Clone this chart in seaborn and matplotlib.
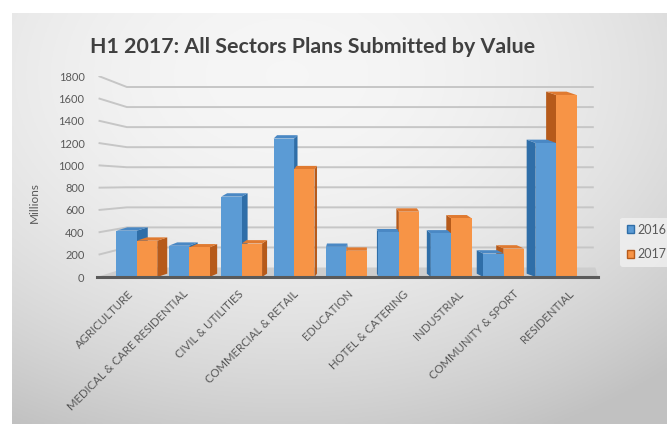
import numpy as np
import pandas as pd
import matplotlib
matplotlib.use("Agg")
import matplotlib.pyplot as plt
import matplotlib.transforms as mtransforms
from matplotlib.patches import Polygon, Patch
import seaborn as sns

# ---- data (millions) ----
sectors = ["AGRICULTURE", "MEDICAL & CARE RESIDENTIAL", "CIVIL & UTILITIES",
           "COMMERCIAL & RETAIL", "EDUCATION", "HOTEL & CATERING",
           "INDUSTRIAL", "COMMUNITY & SPORT", "RESIDENTIAL"]
values_2016 = [415, 280, 720, 1240, 270, 400, 390, 210, 1200]
values_2017 = [325, 265, 300, 965, 235, 585, 525, 255, 1630]
years = ["2016", "2017"]
y_ticks = [0, 200, 400, 600, 800, 1000, 1200, 1400, 1600, 1800]

df = pd.DataFrame({
    "Sector": sectors * 2,
    "Year": [years[0]] * len(sectors) + [years[1]] * len(sectors),
    "Value": values_2016 + values_2017,
})

front_cols = {"2016": "#5b9bd5", "2017": "#f79446"}
side_cols = {"2016": "#2f6ea8", "2017": "#b65a1a"}
top_cols = {"2016": "#4a88c4", "2017": "#e07a30"}
text_grey = "#595959"

sns.set_theme(style="white")
plt.rcParams["font.family"] = ["Lato", "DejaVu Sans"]

fig = plt.figure(figsize=(6.67, 4.24), dpi=100)
fig.patch.set_facecolor("white")

# soft grey gradient panel behind the chart
bg = fig.add_axes([12 / 667, 0, 1 - 12 / 667, 1 - 13 / 424])
gy, gx = np.mgrid[0:1:200j, 0:1:300j]
r2 = ((gx - 0.42) / 0.9) ** 2 + ((gy - 0.15) / 1.0) ** 2
shade = np.clip(0.965 - 0.22 * r2, 0.76, 0.97)
bg.imshow(np.dstack([shade] * 3), aspect="auto", extent=[0, 1, 0, 1], origin="upper")
bg.axis("off")

ax = fig.add_axes([97 / 667, 1 - 277 / 424, 501 / 667, 201 / 424])
ax.set_facecolor("none")

sns.barplot(data=df, x="Sector", y="Value", hue="Year", hue_order=years,
            palette=front_cols, width=0.78, saturation=1, ax=ax,
            legend=False, zorder=3, edgecolor="none")

ax.set_xlim(-0.76, 8.8)
ax.set_ylim(0, 1800)
x0, x1 = ax.get_xlim()

# perspective: back wall drawn slightly lower and compressed
wall_depth = 0.57
def back(v):
    return 85 + 0.898 * v

# walls: left-wall slants joining the back-wall gridlines
for v in y_ticks[1:]:
    ax.plot([x0 + 0.03, x0 + wall_depth, x1 - 0.08], [v, back(v), back(v)],
            color="#c6c6c6", lw=1.4, zorder=0.5, solid_capstyle="butt")

# floor
floor = Polygon([(x0, 0), (x1, 0), (x1 - 0.05, back(0)), (x0 + wall_depth, back(0))],
                closed=True, facecolor="#cdcdcd", edgecolor="none", zorder=1)
ax.add_patch(floor)

# pseudo-3D sides and tops, converging towards the middle of the chart
vanish_x = 4.2
dy = 30
bars = list(ax.patches)[:2 * len(sectors)]
for i, bar in enumerate(bars):
    yr = years[i // len(sectors)]
    x, w, h = bar.get_x(), bar.get_width(), bar.get_height()
    dx = 0.19 * (vanish_x - (x + w / 2)) / 4.0
    edge = x + w if dx > 0 else x
    side = Polygon([(edge, 0), (edge + dx, dy), (edge + dx, h + dy), (edge, h)],
                   closed=True, facecolor=side_cols[yr], edgecolor="none", zorder=2)
    top = Polygon([(x, h), (x + w, h), (x + w + dx, h + dy), (x + dx, h + dy)],
                  closed=True, facecolor=top_cols[yr], edgecolor="none", zorder=2.5)
    ax.add_patch(side)
    ax.add_patch(top)

ax.set_yticks(y_ticks)
ax.grid(False)

for s in ["top", "right", "left"]:
    ax.spines[s].set_visible(False)
ax.spines["bottom"].set_color("#5a5a5a")
ax.spines["bottom"].set_linewidth(2.2)
ax.spines["bottom"].set_zorder(4)

ax.tick_params(axis="y", labelsize=8, colors=text_grey, length=0, pad=9)
ax.tick_params(axis="x", labelsize=8.2, colors=text_grey, length=0, pad=8)
ax.set_xlabel("")
ax.set_ylabel("")

ax.set_xticks(range(len(sectors)))
ax.set_xticklabels(sectors, rotation=45, ha="right", rotation_mode="anchor")
for i, lab in enumerate(ax.get_xticklabels()):
    off = mtransforms.ScaledTranslation((-9 + 2.6 * i) / 100, 0, fig.dpi_scale_trans)
    lab.set_transform(lab.get_transform() + off)

fig.text(34 / 667, 1 - 203 / 424, "Millions", rotation=90, fontsize=8.5,
         color=text_grey, ha="center", va="center")

fig.text(90 / 667, 1 - 47 / 424, "H1 2017: All Sectors Plans Submitted by Value",
         fontsize=15.4, fontweight="bold", color="#404040", va="center", ha="left")

handles = [Patch(facecolor=front_cols[y], edgecolor=side_cols[y]) for y in years]
leg = fig.legend(handles, years, loc="center left",
                 bbox_to_anchor=(614 / 667, 1 - 242 / 424),
                 fontsize=9, frameon=True, handlelength=0.6, handleheight=0.6,
                 handletextpad=0.3, labelspacing=1.0, borderpad=0.5)
leg.get_frame().set_facecolor("#f1f1f1")
leg.get_frame().set_edgecolor("none")
for t in leg.get_texts():
    t.set_color(text_grey)

fig.savefig("out.png", dpi=100)
